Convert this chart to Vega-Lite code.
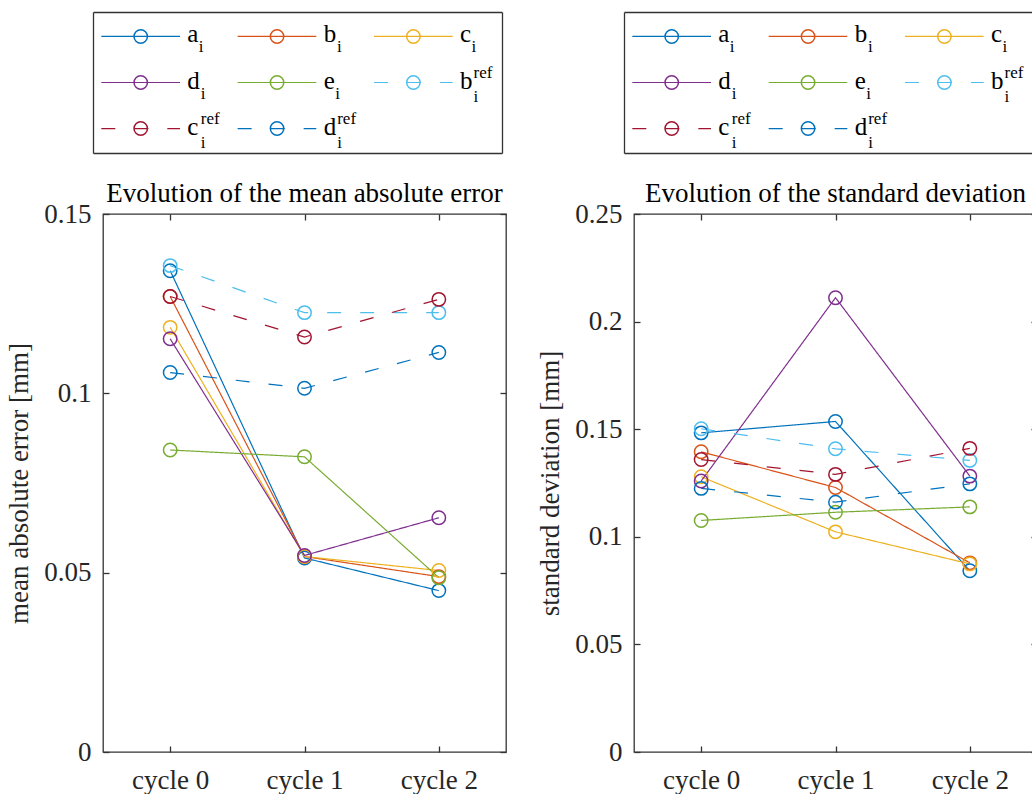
{
  "$schema": "https://vega.github.io/schema/vega-lite/v6.json",
  "background": "white",
  "padding": {"left": 5, "top": 12, "right": -6, "bottom": 0},
  "config": {
    "font": "Liberation Serif",
    "view": {"stroke": "#333333", "strokeWidth": 1.3},
    "axis": {
      "labelFont": "Liberation Serif", "titleFont": "Liberation Serif",
      "labelFontSize": 27, "titleFontSize": 27,
      "labelColor": "#262626", "titleColor": "#262626",
      "titleFontWeight": "normal", "domain": false, "grid": false,
      "domainColor": "#333333", "domainWidth": 1.3,
      "tickColor": "#333333", "tickWidth": 1.3, "tickSize": -6
    },
    "title": {"font": "Liberation Serif", "fontSize": 27, "fontWeight": "normal", "color": "#000000", "anchor": "middle", "baseline": "alphabetic", "offset": -8}
  },
  "datasets": {
    "legend": [
      {"s": "a", "letter": "a", "ref": 0, "col": 0, "row": 0},
      {"s": "b", "letter": "b", "ref": 0, "col": 1, "row": 0},
      {"s": "c", "letter": "c", "ref": 0, "col": 2, "row": 0},
      {"s": "d", "letter": "d", "ref": 0, "col": 0, "row": 1},
      {"s": "e", "letter": "e", "ref": 0, "col": 1, "row": 1},
      {"s": "ref_b", "letter": "b", "ref": 1, "col": 2, "row": 1},
      {"s": "ref_c", "letter": "c", "ref": 1, "col": 0, "row": 2},
      {"s": "ref_d", "letter": "d", "ref": 1, "col": 1, "row": 2}
    ],
    "vals": [
      {"metric": "mae", "s": "a", "cycle": "cycle 0", "value": 0.1342},
      {"metric": "mae", "s": "a", "cycle": "cycle 1", "value": 0.0541},
      {"metric": "mae", "s": "a", "cycle": "cycle 2", "value": 0.0450},
      {"metric": "mae", "s": "b", "cycle": "cycle 0", "value": 0.1270},
      {"metric": "mae", "s": "b", "cycle": "cycle 1", "value": 0.0545},
      {"metric": "mae", "s": "b", "cycle": "cycle 2", "value": 0.0489},
      {"metric": "mae", "s": "c", "cycle": "cycle 0", "value": 0.1184},
      {"metric": "mae", "s": "c", "cycle": "cycle 1", "value": 0.0545},
      {"metric": "mae", "s": "c", "cycle": "cycle 2", "value": 0.0506},
      {"metric": "mae", "s": "d", "cycle": "cycle 0", "value": 0.1152},
      {"metric": "mae", "s": "d", "cycle": "cycle 1", "value": 0.0548},
      {"metric": "mae", "s": "d", "cycle": "cycle 2", "value": 0.0653},
      {"metric": "mae", "s": "e", "cycle": "cycle 0", "value": 0.0842},
      {"metric": "mae", "s": "e", "cycle": "cycle 1", "value": 0.0823},
      {"metric": "mae", "s": "e", "cycle": "cycle 2", "value": 0.0486},
      {"metric": "mae", "s": "ref_b", "cycle": "cycle 0", "value": 0.1356},
      {"metric": "mae", "s": "ref_b", "cycle": "cycle 1", "value": 0.1225},
      {"metric": "mae", "s": "ref_b", "cycle": "cycle 2", "value": 0.1225},
      {"metric": "mae", "s": "ref_c", "cycle": "cycle 0", "value": 0.1270},
      {"metric": "mae", "s": "ref_c", "cycle": "cycle 1", "value": 0.1157},
      {"metric": "mae", "s": "ref_c", "cycle": "cycle 2", "value": 0.1262},
      {"metric": "mae", "s": "ref_d", "cycle": "cycle 0", "value": 0.1058},
      {"metric": "mae", "s": "ref_d", "cycle": "cycle 1", "value": 0.1014},
      {"metric": "mae", "s": "ref_d", "cycle": "cycle 2", "value": 0.1114},
      {"metric": "std", "s": "a", "cycle": "cycle 0", "value": 0.1483},
      {"metric": "std", "s": "a", "cycle": "cycle 1", "value": 0.1536},
      {"metric": "std", "s": "a", "cycle": "cycle 2", "value": 0.0842},
      {"metric": "std", "s": "b", "cycle": "cycle 0", "value": 0.1395},
      {"metric": "std", "s": "b", "cycle": "cycle 1", "value": 0.1229},
      {"metric": "std", "s": "b", "cycle": "cycle 2", "value": 0.0879},
      {"metric": "std", "s": "c", "cycle": "cycle 0", "value": 0.1279},
      {"metric": "std", "s": "c", "cycle": "cycle 1", "value": 0.1023},
      {"metric": "std", "s": "c", "cycle": "cycle 2", "value": 0.0874},
      {"metric": "std", "s": "d", "cycle": "cycle 0", "value": 0.1259},
      {"metric": "std", "s": "d", "cycle": "cycle 1", "value": 0.2111},
      {"metric": "std", "s": "d", "cycle": "cycle 2", "value": 0.1282},
      {"metric": "std", "s": "e", "cycle": "cycle 0", "value": 0.1076},
      {"metric": "std", "s": "e", "cycle": "cycle 1", "value": 0.1114},
      {"metric": "std", "s": "e", "cycle": "cycle 2", "value": 0.1139},
      {"metric": "std", "s": "ref_b", "cycle": "cycle 0", "value": 0.1502},
      {"metric": "std", "s": "ref_b", "cycle": "cycle 1", "value": 0.1409},
      {"metric": "std", "s": "ref_b", "cycle": "cycle 2", "value": 0.1355},
      {"metric": "std", "s": "ref_c", "cycle": "cycle 0", "value": 0.1359},
      {"metric": "std", "s": "ref_c", "cycle": "cycle 1", "value": 0.1290},
      {"metric": "std", "s": "ref_c", "cycle": "cycle 2", "value": 0.1411},
      {"metric": "std", "s": "ref_d", "cycle": "cycle 0", "value": 0.1225},
      {"metric": "std", "s": "ref_d", "cycle": "cycle 1", "value": 0.1161},
      {"metric": "std", "s": "ref_d", "cycle": "cycle 2", "value": 0.1246}
    ]
  },
  "spacing": 24,
  "hconcat": [
    {
      "spacing": 26,
      "vconcat": [
        {
          "width": 409, "height": 141,
          "view": {"stroke": null},
          "data": {"name": "legend"},
          "layer": [
            {"mark": {"type": "rule", "strokeWidth": 1.2},
             "encoding": {
               "x": {"field": "col", "type": "ordinal", "bandPosition": 0.061, "scale": {"type": "band", "paddingInner": 0, "paddingOuter": 0, "range": [-10, 399]}, "axis": {"orient": "bottom", "domain": true, "labels": false, "ticks": false, "title": null}},
               "x2": {"field": "col", "bandPosition": 0.638},
               "y": {"field": "row", "type": "ordinal", "scale": {"type": "band", "paddingInner": 0, "paddingOuter": 0.03}, "axis": {"orient": "left", "domain": true, "labels": false, "ticks": false, "title": null, "offset": 10}},
               "color": {"field": "s", "type": "nominal", "legend": null, "scale": {"domain": ["a","b","c","d","e","ref_b","ref_c","ref_d"], "range": ["#0072BD","#D95319","#EDB120","#7E2F8E","#77AC30","#4DBEEE","#A2142F","#0072BD"]}},
               "strokeDash": {"field": "s", "type": "nominal", "legend": null, "scale": {"domain": ["a","b","c","d","e","ref_b","ref_c","ref_d"], "range": [[1,0],[1,0],[1,0],[1,0],[1,0],[14,19],[14,19],[14,19]]}}
             }},
            {"mark": {"type": "point", "shape": "circle", "filled": false, "size": 180, "strokeWidth": 1.5, "opacity": 1},
             "encoding": {
               "x": {"field": "col", "type": "ordinal", "bandPosition": 0.35, "axis": {"orient": "top", "domain": true, "labels": false, "ticks": false, "title": null}},
               "y": {"field": "row", "type": "ordinal", "axis": {"orient": "right", "domain": true, "labels": false, "ticks": false, "title": null, "offset": -10}},
               "color": {"field": "s", "type": "nominal", "legend": null}
             }},
            {"mark": {"type": "text", "align": "left", "baseline": "alphabetic", "dy": 6, "fontSize": 25, "font": "Liberation Serif", "color": "#000000"},
             "encoding": {
               "x": {"field": "col", "type": "ordinal", "bandPosition": 0.692, "axis": null},
               "y": {"field": "row", "type": "ordinal", "axis": null},
               "text": {"field": "letter"}
             }},
            {"transform": [{"filter": "datum.ref == 0 && indexof(['a','c','e'], datum.letter) >= 0"}],
             "mark": {"type": "text", "align": "left", "baseline": "alphabetic", "dx": 11.5, "dy": 16, "fontSize": 17, "font": "Liberation Serif", "color": "#000000"},
             "encoding": {
               "x": {"field": "col", "type": "ordinal", "bandPosition": 0.692, "axis": null},
               "y": {"field": "row", "type": "ordinal", "axis": null},
               "text": {"value": "i"}
             }},
            {"transform": [{"filter": "datum.ref == 0 && indexof(['b','d'], datum.letter) >= 0"}],
             "mark": {"type": "text", "align": "left", "baseline": "alphabetic", "dx": 13.3, "dy": 16, "fontSize": 17, "font": "Liberation Serif", "color": "#000000"},
             "encoding": {
               "x": {"field": "col", "type": "ordinal", "bandPosition": 0.692, "axis": null},
               "y": {"field": "row", "type": "ordinal", "axis": null},
               "text": {"value": "i"}
             }},
            {"transform": [{"filter": "datum.ref == 1"}],
             "mark": {"type": "text", "align": "left", "baseline": "alphabetic", "dx": 13.5, "dy": 19, "fontSize": 17, "font": "Liberation Serif", "color": "#000000"},
             "encoding": {
               "x": {"field": "col", "type": "ordinal", "bandPosition": 0.692, "axis": null},
               "y": {"field": "row", "type": "ordinal", "axis": null},
               "text": {"value": "i"}
             }},
            {"transform": [{"filter": "datum.ref == 1"}],
             "mark": {"type": "text", "align": "left", "baseline": "alphabetic", "dx": 13.5, "dy": -5, "fontSize": 17, "font": "Liberation Serif", "color": "#000000"},
             "encoding": {
               "x": {"field": "col", "type": "ordinal", "bandPosition": 0.692, "axis": null},
               "y": {"field": "row", "type": "ordinal", "axis": null},
               "text": {"value": "ref"}
             }}
          ],
          "resolve": {"axis": {"x": "independent", "y": "independent"}}
        },
        {
          "width": 403, "height": 538,
          "title": "Evolution of the mean absolute error",
          "data": {"name": "vals"},
          "transform": [{"filter": "datum.metric == 'mae'"}],
          "layer": [
            {"mark": {"type": "line", "strokeWidth": 1.2},
             "encoding": {
               "x": {"field": "cycle", "type": "ordinal", "scale": {"type": "point", "padding": 0.5}, "axis": {"title": null, "labelAngle": 0, "labelPadding": 21}},
               "y": {"field": "value", "type": "quantitative", "scale": {"domain": [0, 0.15], "nice": false, "zero": true}, "axis": {"title": "mean absolute error [mm]", "values": [0, 0.05, 0.1, 0.15], "format": ".2~f", "labelPadding": 18, "titlePadding": 10}},
               "color": {"field": "s", "type": "nominal", "legend": null, "scale": {"domain": ["a","b","c","d","e","ref_b","ref_c","ref_d"], "range": ["#0072BD","#D95319","#EDB120","#7E2F8E","#77AC30","#4DBEEE","#A2142F","#0072BD"]}},
               "strokeDash": {"field": "s", "type": "nominal", "legend": null, "scale": {"domain": ["a","b","c","d","e","ref_b","ref_c","ref_d"], "range": [[1,0],[1,0],[1,0],[1,0],[1,0],[16,10],[16,10],[16,10]]}}
             }},
            {"mark": {"type": "point", "shape": "circle", "filled": false, "size": 180, "strokeWidth": 1.5, "opacity": 1},
             "encoding": {
               "x": {"field": "cycle", "type": "ordinal", "axis": null},
               "y": {"field": "value", "type": "quantitative", "axis": null},
               "color": {"field": "s", "type": "nominal", "legend": null}
             }},
            {"mark": {"type": "point", "opacity": 0},
             "encoding": {
               "x": {"field": "cycle", "type": "ordinal", "axis": {"orient": "top", "labels": false, "title": null}},
               "y": {"field": "value", "type": "quantitative", "axis": {"orient": "right", "labels": false, "title": null, "values": [0, 0.05, 0.1, 0.15]}}
             }}
          ],
          "resolve": {"axis": {"x": "independent", "y": "independent"}}
        }
      ]
    },
    {
      "spacing": 26,
      "vconcat": [
        {
          "width": 409, "height": 141,
          "view": {"stroke": null},
          "data": {"name": "legend"},
          "layer": [
            {"mark": {"type": "rule", "strokeWidth": 1.2},
             "encoding": {
               "x": {"field": "col", "type": "ordinal", "bandPosition": 0.061, "scale": {"type": "band", "paddingInner": 0, "paddingOuter": 0, "range": [-10, 399]}, "axis": {"orient": "bottom", "domain": true, "labels": false, "ticks": false, "title": null}},
               "x2": {"field": "col", "bandPosition": 0.638},
               "y": {"field": "row", "type": "ordinal", "scale": {"type": "band", "paddingInner": 0, "paddingOuter": 0.03}, "axis": {"orient": "left", "domain": true, "labels": false, "ticks": false, "title": null, "offset": 10}},
               "color": {"field": "s", "type": "nominal", "legend": null, "scale": {"domain": ["a","b","c","d","e","ref_b","ref_c","ref_d"], "range": ["#0072BD","#D95319","#EDB120","#7E2F8E","#77AC30","#4DBEEE","#A2142F","#0072BD"]}},
               "strokeDash": {"field": "s", "type": "nominal", "legend": null, "scale": {"domain": ["a","b","c","d","e","ref_b","ref_c","ref_d"], "range": [[1,0],[1,0],[1,0],[1,0],[1,0],[14,19],[14,19],[14,19]]}}
             }},
            {"mark": {"type": "point", "shape": "circle", "filled": false, "size": 180, "strokeWidth": 1.5, "opacity": 1},
             "encoding": {
               "x": {"field": "col", "type": "ordinal", "bandPosition": 0.35, "axis": {"orient": "top", "domain": true, "labels": false, "ticks": false, "title": null}},
               "y": {"field": "row", "type": "ordinal", "axis": {"orient": "right", "domain": true, "labels": false, "ticks": false, "title": null, "offset": -10}},
               "color": {"field": "s", "type": "nominal", "legend": null}
             }},
            {"mark": {"type": "text", "align": "left", "baseline": "alphabetic", "dy": 6, "fontSize": 25, "font": "Liberation Serif", "color": "#000000"},
             "encoding": {
               "x": {"field": "col", "type": "ordinal", "bandPosition": 0.692, "axis": null},
               "y": {"field": "row", "type": "ordinal", "axis": null},
               "text": {"field": "letter"}
             }},
            {"transform": [{"filter": "datum.ref == 0 && indexof(['a','c','e'], datum.letter) >= 0"}],
             "mark": {"type": "text", "align": "left", "baseline": "alphabetic", "dx": 11.5, "dy": 16, "fontSize": 17, "font": "Liberation Serif", "color": "#000000"},
             "encoding": {
               "x": {"field": "col", "type": "ordinal", "bandPosition": 0.692, "axis": null},
               "y": {"field": "row", "type": "ordinal", "axis": null},
               "text": {"value": "i"}
             }},
            {"transform": [{"filter": "datum.ref == 0 && indexof(['b','d'], datum.letter) >= 0"}],
             "mark": {"type": "text", "align": "left", "baseline": "alphabetic", "dx": 13.3, "dy": 16, "fontSize": 17, "font": "Liberation Serif", "color": "#000000"},
             "encoding": {
               "x": {"field": "col", "type": "ordinal", "bandPosition": 0.692, "axis": null},
               "y": {"field": "row", "type": "ordinal", "axis": null},
               "text": {"value": "i"}
             }},
            {"transform": [{"filter": "datum.ref == 1"}],
             "mark": {"type": "text", "align": "left", "baseline": "alphabetic", "dx": 13.5, "dy": 19, "fontSize": 17, "font": "Liberation Serif", "color": "#000000"},
             "encoding": {
               "x": {"field": "col", "type": "ordinal", "bandPosition": 0.692, "axis": null},
               "y": {"field": "row", "type": "ordinal", "axis": null},
               "text": {"value": "i"}
             }},
            {"transform": [{"filter": "datum.ref == 1"}],
             "mark": {"type": "text", "align": "left", "baseline": "alphabetic", "dx": 13.5, "dy": -5, "fontSize": 17, "font": "Liberation Serif", "color": "#000000"},
             "encoding": {
               "x": {"field": "col", "type": "ordinal", "bandPosition": 0.692, "axis": null},
               "y": {"field": "row", "type": "ordinal", "axis": null},
               "text": {"value": "ref"}
             }}
          ],
          "resolve": {"axis": {"x": "independent", "y": "independent"}}
        },
        {
          "width": 403, "height": 538,
          "title": "Evolution of the standard deviation",
          "data": {"name": "vals"},
          "transform": [{"filter": "datum.metric == 'std'"}],
          "layer": [
            {"mark": {"type": "line", "strokeWidth": 1.2},
             "encoding": {
               "x": {"field": "cycle", "type": "ordinal", "scale": {"type": "point", "padding": 0.5}, "axis": {"title": null, "labelAngle": 0, "labelPadding": 21}},
               "y": {"field": "value", "type": "quantitative", "scale": {"domain": [0, 0.25], "nice": false, "zero": true}, "axis": {"title": "standard deviation [mm]", "values": [0, 0.05, 0.1, 0.15, 0.2, 0.25], "format": ".2~f", "labelPadding": 18, "titlePadding": 10}},
               "color": {"field": "s", "type": "nominal", "legend": null, "scale": {"domain": ["a","b","c","d","e","ref_b","ref_c","ref_d"], "range": ["#0072BD","#D95319","#EDB120","#7E2F8E","#77AC30","#4DBEEE","#A2142F","#0072BD"]}},
               "strokeDash": {"field": "s", "type": "nominal", "legend": null, "scale": {"domain": ["a","b","c","d","e","ref_b","ref_c","ref_d"], "range": [[1,0],[1,0],[1,0],[1,0],[1,0],[16,10],[16,10],[16,10]]}}
             }},
            {"mark": {"type": "point", "shape": "circle", "filled": false, "size": 180, "strokeWidth": 1.5, "opacity": 1},
             "encoding": {
               "x": {"field": "cycle", "type": "ordinal", "axis": null},
               "y": {"field": "value", "type": "quantitative", "axis": null},
               "color": {"field": "s", "type": "nominal", "legend": null}
             }},
            {"mark": {"type": "point", "opacity": 0},
             "encoding": {
               "x": {"field": "cycle", "type": "ordinal", "axis": {"orient": "top", "labels": false, "title": null}},
               "y": {"field": "value", "type": "quantitative", "axis": {"orient": "right", "labels": false, "title": null, "values": [0, 0.05, 0.1, 0.15, 0.2, 0.25]}}
             }}
          ],
          "resolve": {"axis": {"x": "independent", "y": "independent"}}
        }
      ]
    }
  ]
}
